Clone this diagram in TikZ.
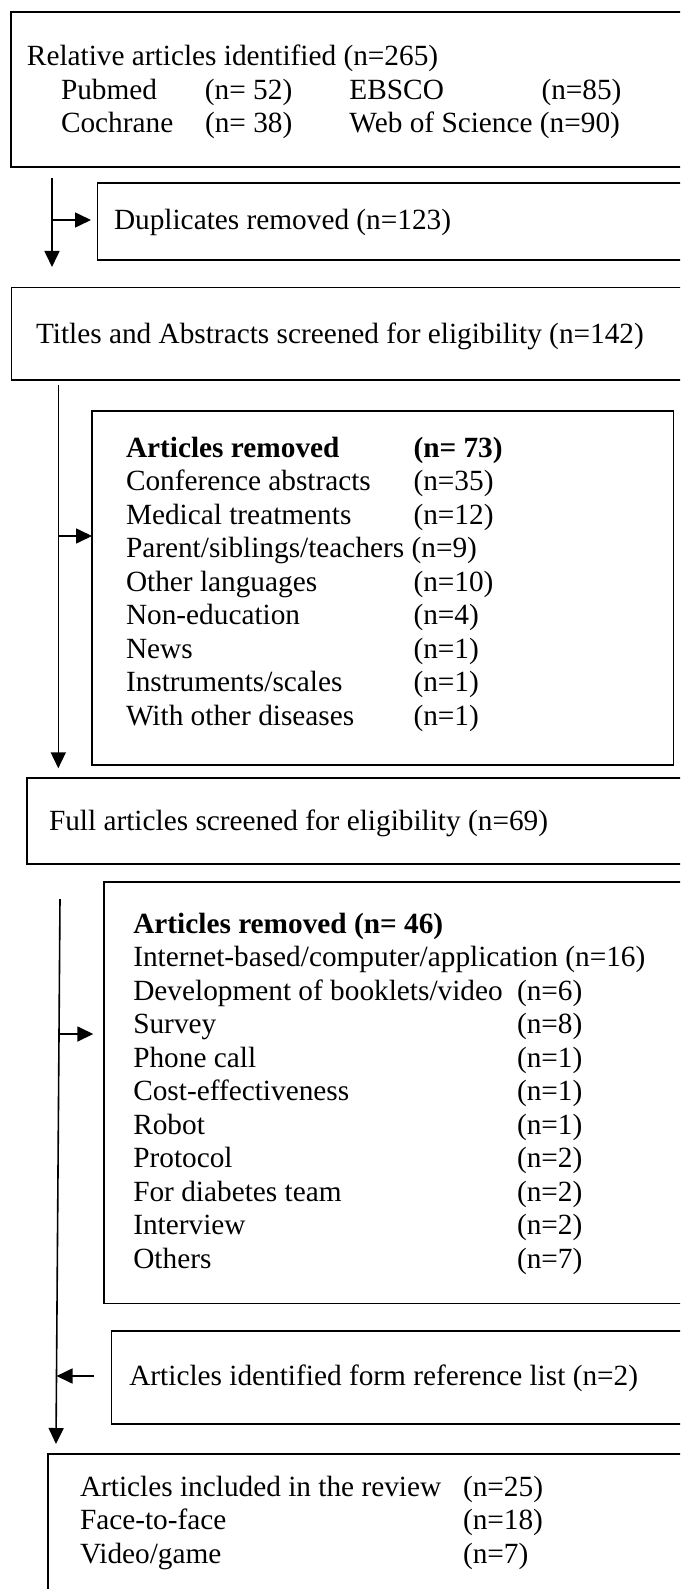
\documentclass[tikz,border=0pt]{standalone}
\usepackage{fontspec}
\setmainfont{Liberation Serif}
\usetikzlibrary{arrows.meta}
\newcommand\lbl[2]{\makebox[#1][l]{#2}}
\begin{document}
\begin{tikzpicture}[x=1pt,y=-1pt,
  box/.style={draw, line width=1.7pt, rectangle, inner sep=0pt, outer sep=0pt, anchor=north west},
  txt/.style={anchor=base west, inner sep=0pt, outer sep=0pt, font=\fontsize{29.3}{33.5}\selectfont},
  flow/.style={line width=1.6pt, -{Triangle[length=16pt,width=15pt]}},
  link/.style={line width=1.6pt}]
\useasboundingbox (0,0) rectangle (680,1589);
\clip (0,0) rectangle (680,1589);
% boxes
\node[box, minimum width=689pt, minimum height=155pt] (b1) at (11,12) {};
\node[box, minimum width=602.5pt, minimum height=77pt] (b2) at (97.5,183) {};
\node[box, minimum width=688.5pt, minimum height=92.5pt] (b3) at (11.5,287.5) {};
\node[box, minimum width=581.5pt, minimum height=354pt] (b4) at (92,411) {};
\node[box, minimum width=673pt, minimum height=86pt] (b5) at (27,778) {};
\node[box, minimum width=596pt, minimum height=421.5pt] (b6) at (104,882) {};
\node[box, minimum width=588.5pt, minimum height=93pt] (b7) at (111.5,1331) {};
\node[box, minimum width=652pt, minimum height=166pt] (b8) at (48,1454) {};
% texts
\node[txt] (t1) at (27,66) {Relative articles identified (n=265)};
\node[txt] (t1r) at (61,99.5) {\begin{tabular}[t]{@{}l@{}}
\lbl{144pt}{Pubmed}\lbl{144.5pt}{(n= 52)}\lbl{192pt}{EBSCO}(n=85)\\
\lbl{144pt}{Cochrane}\lbl{144.5pt}{(n= 38)}Web of Science (n=90)
\end{tabular}};
\node[txt] (t2) at (114,230) {Duplicates removed (n=123)};
\node[txt] (t3) at (36,343) {Titles and Abstracts screened for eligibility (n=142)};
\node[txt] (t4) at (126,457) {\begin{tabular}[t]{@{}l@{}}
\textbf{\lbl{287.5pt}{Articles removed}(n= 73)}\\
\lbl{287.5pt}{Conference abstracts}(n=35)\\
\lbl{287.5pt}{Medical treatments}(n=12)\\
Parent/siblings/teachers (n=9)\\
\lbl{287.5pt}{Other languages}(n=10)\\
\lbl{287.5pt}{Non-education}(n=4)\\
\lbl{287.5pt}{News}(n=1)\\
\lbl{287.5pt}{Instruments/scales}(n=1)\\
\lbl{287.5pt}{With other diseases}(n=1)
\end{tabular}};
\node[txt] (t5) at (49,830.5) {Full articles screened for eligibility (n=69)};
\node[txt] (t6) at (133.3,933.3) {\begin{tabular}[t]{@{}l@{}}
\textbf{Articles removed (n= 46)}\\
Internet-based/computer/application (n=16)\\
\lbl{383.7pt}{Development of booklets/video}(n=6)\\
\lbl{383.7pt}{Survey}(n=8)\\
\lbl{383.7pt}{Phone call}(n=1)\\
\lbl{383.7pt}{Cost-effectiveness}(n=1)\\
\lbl{383.7pt}{Robot}(n=1)\\
\lbl{383.7pt}{Protocol}(n=2)\\
\lbl{383.7pt}{For diabetes team}(n=2)\\
\lbl{383.7pt}{Interview}(n=2)\\
\lbl{383.7pt}{Others}(n=7)
\end{tabular}};
\node[txt] (t7) at (129.3,1385.7) {Articles identified form reference list (n=2)};
\node[txt] (t8) at (80,1496) {\begin{tabular}[t]{@{}l@{}}
\lbl{383pt}{Articles included in the review}(n=25)\\
\lbl{383pt}{Face-to-face}(n=18)\\
\lbl{383pt}{Video/game}(n=7)
\end{tabular}};
% connectors
\coordinate (a1s) at (52,178);
\coordinate (a1e) at (52,267);
\coordinate (a1b) at (52,220);
\coordinate (a1t) at (91,220);
\draw[flow] (a1s) -- (a1e);
\draw[flow] (a1b) -- (a1t);
\coordinate (a2s) at (58.3,385);
\coordinate (a2e) at (58.3,768.3);
\coordinate (a2b) at (58.3,536);
\draw[flow] (a2s) -- (a2e);
\draw[flow] (a2b) -- (a2b -| b4.west);
\coordinate (a3s) at (60,899);
\coordinate (a3e) at (56,1444);
\coordinate (a3b) at (59,1034);
\coordinate (a3t) at (93.3,1034);
\coordinate (a4s) at (94.3,1376);
\coordinate (a4e) at (56.5,1376);
\draw[flow] (a3s) -- (a3e);
\draw[flow] (a3b) -- (a3t);
\draw[flow] (a4s) -- (a4e);
\end{tikzpicture}
\end{document}
